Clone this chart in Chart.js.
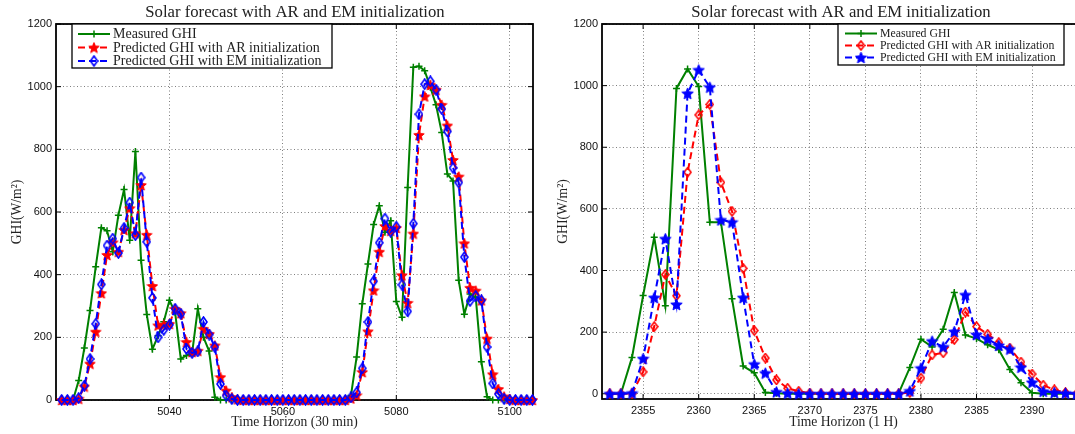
<!DOCTYPE html>
<html>
<head>
<meta charset="utf-8">
<script src="https://cdn.jsdelivr.net/npm/chart.js@4/dist/chart.umd.min.js"></script>
<style>
  html, body { margin: 0; padding: 0; background: #fff; overflow: hidden; width: 1075px; height: 434px; }
  #wrap { position: relative; width: 1075px; height: 434px; overflow: hidden; }
  #arChart { position: absolute; left: 0; top: 0; }
  #hourChart { position: absolute; left: 545px; top: 0; }
</style>
</head>
<body>
<div id="wrap">
  <canvas id="arChart" width="545" height="434"></canvas>
  <canvas id="hourChart" width="600" height="434"></canvas>
</div>
<script>
// ---- left panel: 30 min horizon ----
const halfHourTime = [
    5021, 5022, 5023, 5024, 5025, 5026, 5027, 5028, 5029, 5030,
    5031, 5032, 5033, 5034, 5035, 5036, 5037, 5038, 5039, 5040,
    5041, 5042, 5043, 5044, 5045, 5046, 5047, 5048, 5049, 5050,
    5051, 5052, 5053, 5054, 5055, 5056, 5057, 5058, 5059, 5060,
    5061, 5062, 5063, 5064, 5065, 5066, 5067, 5068, 5069, 5070,
    5071, 5072, 5073, 5074, 5075, 5076, 5077, 5078, 5079, 5080,
    5081, 5082, 5083, 5084, 5085, 5086, 5087, 5088, 5089, 5090,
    5091, 5092, 5093, 5094, 5095, 5096, 5097, 5098, 5099, 5100,
    5101, 5102, 5103, 5104
];
const halfHourMeasured = [
    0, 0, 0, 62, 166, 286, 425, 550, 540, 473,
    590, 672, 510, 793, 446, 273, 162, 205, 250, 318,
    280, 131, 142, 150, 291, 200, 156, 9, 0, 0,
    0, 0, 0, 0, 0, 0, 0, 0, 0, 0,
    0, 0, 0, 0, 0, 0, 0, 0, 0, 0,
    0, 14, 137, 307, 434, 560, 620, 535, 572, 314,
    264, 678, 1062, 1065, 1051, 998, 942, 854, 721, 699,
    382, 274, 338, 328, 122, 10, 0, 0, 0, 0,
    0, 0, 0, 0
];
const halfHourAR = [
    0, 0, 0, 4, 43, 116, 218, 341, 463, 503,
    473, 543, 612, 532, 686, 527, 364, 238, 240, 243,
    291, 277, 185, 153, 157, 227, 211, 174, 73, 30,
    9, 2, 0, 0, 0, 0, 0, 0, 0, 0,
    0, 0, 0, 0, 0, 0, 0, 0, 0, 0,
    0, 5, 15, 89, 219, 350, 473, 555, 540, 549,
    398, 310, 531, 846, 969, 1006, 990, 942, 876, 766,
    713, 500, 358, 349, 318, 196, 82, 35, 11, 3,
    0, 0, 0, 0
];
const halfHourEM = [
    0, 0, 0, 6, 46, 131, 243, 369, 493, 515,
    469, 549, 630, 526, 710, 505, 326, 200, 224, 240,
    291, 275, 163, 150, 155, 249, 209, 169, 51, 14,
    3, 0, 0, 0, 0, 0, 0, 0, 0, 0,
    0, 0, 0, 0, 0, 0, 0, 0, 0, 0,
    0, 8, 24, 101, 249, 379, 502, 579, 537, 553,
    368, 283, 563, 912, 1008, 1017, 990, 929, 857, 741,
    694, 456, 316, 332, 318, 169, 53, 19, 3, 0,
    0, 0, 0, 0
];
const halfHourTicks = [5040, 5060, 5080, 5100];

// ---- right panel: 1 hour horizon ----
const hourTime = [
    2352, 2353, 2354, 2355, 2356, 2357, 2358, 2359, 2360, 2361,
    2362, 2363, 2364, 2365, 2366, 2367, 2368, 2369, 2370, 2371,
    2372, 2373, 2374, 2375, 2376, 2377, 2378, 2379, 2380, 2381,
    2382, 2383, 2384, 2385, 2386, 2387, 2388, 2389, 2390, 2391,
    2392, 2393, 2394
];
const hourMeasured = [
    0, 0, 118, 319, 508, 286, 991, 1054, 997, 557,
    557, 308, 90, 68, 4, 2, 0, 0, 0, 0,
    0, 0, 0, 0, 0, 0, 2, 85, 177, 152,
    209, 329, 191, 179, 159, 143, 79, 36, 3, 0,
    0, 0, 0
];
const hourAR = [
    0, 0, 0, 71, 218, 387, 318, 719, 905, 939,
    686, 592, 407, 205, 116, 45, 18, 8, 2, 0,
    0, 0, 0, 0, 0, 0, 0, 4, 51, 126,
    133, 176, 265, 218, 193, 166, 148, 103, 64, 28,
    13, 4, 0
];
const hourEM = [
    0, 0, 2, 114, 312, 503, 290, 975, 1051, 995,
    564, 557, 312, 96, 67, 6, 2, 0, 0, 0,
    0, 0, 0, 0, 0, 0, 0, 9, 83, 171,
    152, 202, 321, 192, 178, 157, 145, 86, 37, 8,
    4, 2, 0
];
const hourTicks = [2355, 2360, 2365, 2370, 2375, 2380, 2385, 2390];

const ghiTicks = [0, 200, 400, 600, 800, 1000, 1200];
const seriesNames = [
    'Measured GHI',
    'Predicted GHI with AR initialization',
    'Predicted GHI with EM initialization'
];
const chartTitle = 'Solar forecast with AR and EM initialization';

const GREEN = 'rgb(0,128,0)';
const RED = 'rgb(255,0,0)';
const BLUE = 'rgb(0,0,255)';
const SERIF = '"Liberation Serif", "DejaVu Serif", serif';
const SANS = '"Liberation Sans", Arial, sans-serif';

// filled pentagram marker
function pentagram(color, size) {
    const c = document.createElement('canvas');
    c.width = size; c.height = size;
    const g = c.getContext('2d');
    const R = size / 2 - 0.5, r = R * 0.45, cx = size / 2, cy = size / 2 + 0.6;
    g.beginPath();
    for (let i = 0; i < 10; i++) {
        const a = -Math.PI / 2 + i * Math.PI / 5;
        const rr = i % 2 ? r : R;
        g.lineTo(cx + rr * Math.cos(a), cy + rr * Math.sin(a));
    }
    g.closePath();
    g.fillStyle = color; g.fill();
    g.strokeStyle = color; g.lineWidth = 1; g.stroke();
    return c;
}

// hollow diamond marker (a bit taller than wide, like matlab 'd')
function diamond(color, w, h) {
    const c = document.createElement('canvas');
    c.width = w; c.height = h;
    const g = c.getContext('2d');
    g.beginPath();
    g.moveTo(w / 2, 1); g.lineTo(w - 1, h / 2); g.lineTo(w / 2, h - 1); g.lineTo(1, h / 2);
    g.closePath();
    g.strokeStyle = color; g.lineWidth = 1.6; g.stroke();
    return c;
}

function xy(xs, ys) {
    return xs.map((x, i) => ({ x: x, y: ys[i] }));
}

// axes box + inward ticks, titles
const matlabFrame = {
    id: 'matlabFrame',
    beforeDatasetsDraw(chart, args, opts) {
        const { ctx, chartArea: a, scales } = chart;
        ctx.save();
        ctx.strokeStyle = '#000';
        ctx.lineWidth = 1;
        opts.xTicks.forEach(v => {
            const px = scales.x.getPixelForValue(v);
            ctx.beginPath();
            ctx.moveTo(px, a.bottom); ctx.lineTo(px, a.bottom - 5);
            ctx.moveTo(px, a.top); ctx.lineTo(px, a.top + 5);
            ctx.stroke();
        });
        ghiTicks.forEach(v => {
            const py = scales.y.getPixelForValue(v);
            ctx.beginPath();
            ctx.moveTo(a.left, py); ctx.lineTo(a.left + 5, py);
            ctx.moveTo(a.right, py); ctx.lineTo(a.right - 5, py);
            ctx.stroke();
        });
        ctx.lineWidth = 1.8;
        ctx.strokeRect(a.left, a.top, a.right - a.left, a.bottom - a.top);
        ctx.restore();
    },
    afterDraw(chart, args, opts) {
        const { ctx } = chart;
        ctx.save();
        ctx.font = '16.7px ' + SERIF;
        ctx.fillStyle = '#222';
        ctx.textAlign = 'center';
        ctx.textBaseline = 'middle';
        ctx.fillText(chartTitle, opts.titleX, 13);
        ctx.restore();
    }
};

// boxed legend like matlab
const boxLegend = {
    id: 'boxLegend',
    afterDatasetsDraw(chart, args, opts) {
        const ctx = chart.ctx;
        ctx.save();
        ctx.fillStyle = '#fff';
        ctx.fillRect(opts.x, opts.y, opts.w, opts.h);
        ctx.strokeStyle = '#000';
        ctx.lineWidth = 1.3;
        ctx.strokeRect(opts.x, opts.y, opts.w, opts.h);
        chart.data.datasets.forEach((ds, i) => {
            const y = opts.rows[i];
            ctx.strokeStyle = ds.borderColor;
            ctx.lineWidth = ds.borderWidth;
            ctx.setLineDash(ds.borderDash || []);
            ctx.beginPath();
            ctx.moveTo(opts.lineX0, y); ctx.lineTo(opts.lineX1, y);
            ctx.stroke();
            ctx.setLineDash([]);
            ctx.fillStyle = ds.borderColor;
            ctx.lineWidth = ds.pointBorderWidth;
            Chart.helpers.drawPoint(ctx, {
                pointStyle: ds.pointStyle, radius: ds.pointRadius,
                borderWidth: ds.pointBorderWidth, rotation: 0
            }, (opts.lineX0 + opts.lineX1) / 2, y);
            ctx.fillStyle = '#222';
            ctx.font = opts.font + 'px ' + SERIF;
            ctx.textAlign = 'left';
            ctx.textBaseline = 'middle';
            ctx.fillText(ds.label, opts.textX, y + 0.5);
        });
        ctx.restore();
    }
};

function buildChart(id, p) {
    const ctx = document.getElementById(id).getContext('2d');
    return new Chart(ctx, {
        type: 'line',
        data: {
            datasets: [{
                label: seriesNames[0],
                data: xy(p.time, p.measured),
                borderColor: GREEN,
                backgroundColor: GREEN,
                borderWidth: 2,
                pointStyle: 'cross',
                pointRadius: 3.5,
                pointBorderWidth: 1.5,
                order: 3
            }, {
                label: seriesNames[1],
                data: xy(p.time, p.ar),
                borderColor: RED,
                backgroundColor: RED,
                borderWidth: 2,
                borderDash: [7, 4],
                pointStyle: p.arMarker,
                pointRadius: 5,
                pointBorderWidth: 1.5,
                order: 2
            }, {
                label: seriesNames[2],
                data: xy(p.time, p.em),
                borderColor: BLUE,
                backgroundColor: BLUE,
                borderWidth: 2,
                borderDash: [7, 4],
                pointStyle: p.emMarker,
                pointRadius: 5,
                pointBorderWidth: 1.5,
                order: 1
            }]
        },
        options: {
            responsive: false,
            animation: false,
            events: [],
            clip: false,
            elements: { line: { tension: 0, fill: false } },
            layout: { padding: { left: 0, top: 24, right: p.padRight, bottom: 0 } },
            plugins: {
                legend: { display: false },
                tooltip: { enabled: false },
                matlabFrame: { xTicks: p.xTicks, titleX: p.titleX },
                boxLegend: p.legend
            },
            scales: {
                x: {
                    type: 'linear',
                    min: p.xMin,
                    max: p.xMax,
                    afterBuildTicks: s => { s.ticks = p.xTicks.map(v => ({ value: v })); },
                    afterFit: s => { s.height = p.xHeight; },
                    ticks: {
                        padding: 5,
                        color: '#111',
                        font: { family: SANS, size: 11 },
                        callback: v => String(v)
                    },
                    grid: { color: 'rgba(0,0,0,0.5)', lineWidth: 1, drawTicks: false },
                    border: { display: false, dash: [1, 2.5] },
                    title: {
                        display: true,
                        text: p.xTitle,
                        color: '#222',
                        font: { family: SERIF, size: 13.6 },
                        padding: { top: 0, bottom: 3 }
                    }
                },
                y: {
                    min: p.yMin,
                    max: 1200,
                    afterBuildTicks: s => { s.ticks = ghiTicks.map(v => ({ value: v })); },
                    afterFit: s => { s.width = p.yWidth; },
                    ticks: {
                        padding: 4,
                        color: '#111',
                        font: { family: SANS, size: 11 },
                        callback: v => String(v)
                    },
                    grid: { color: 'rgba(0,0,0,0.5)', lineWidth: 1, drawTicks: false },
                    border: { display: false, dash: [1, 2.5] },
                    title: {
                        display: true,
                        text: 'GHI(W/m²)',
                        color: '#222',
                        font: { family: SERIF, size: 13.6 },
                        padding: { top: p.yTitlePad, bottom: 0 }
                    }
                }
            }
        },
        plugins: [matlabFrame, boxLegend]
    });
}

document.addEventListener('DOMContentLoaded', function () {
    // Left: 30 min horizon
    buildChart('arChart', {
        time: halfHourTime,
        measured: halfHourMeasured,
        ar: halfHourAR,
        em: halfHourEM,
        arMarker: pentagram(RED, 12),
        emMarker: diamond(BLUE, 9, 12),
        xMin: 5020, xMax: 5104.1, yMin: 0,
        xTicks: halfHourTicks,
        xTitle: 'Time Horizon (30 min)',
        xHeight: 34, yWidth: 56, padRight: 12, yTitlePad: 9,
        titleX: 295,
        legend: {
            x: 72, y: 24, w: 260, h: 44,
            rows: [34, 47.5, 61],
            lineX0: 78, lineX1: 110, textX: 113, font: 14
        }
    });

    // Right: 1 H horizon (axis box runs past the page edge)
    buildChart('hourChart', {
        time: hourTime,
        measured: hourMeasured,
        ar: hourAR,
        em: hourEM,
        arMarker: diamond(RED, 9, 11),
        emMarker: pentagram(BLUE, 13),
        xMin: 2351.3, xMax: 2394.76, yMin: -17,
        xTicks: hourTicks,
        xTitle: 'Time Horizon (1 H)',
        xHeight: 35, yWidth: 57, padRight: 60, yTitlePad: 10,
        titleX: 296,
        legend: {
            x: 293, y: 24, w: 226, h: 41,
            rows: [33.5, 45.5, 57.5],
            lineX0: 300, lineX1: 332, textX: 335, font: 11.8
        }
    });
});
</script>
</body>
</html>
